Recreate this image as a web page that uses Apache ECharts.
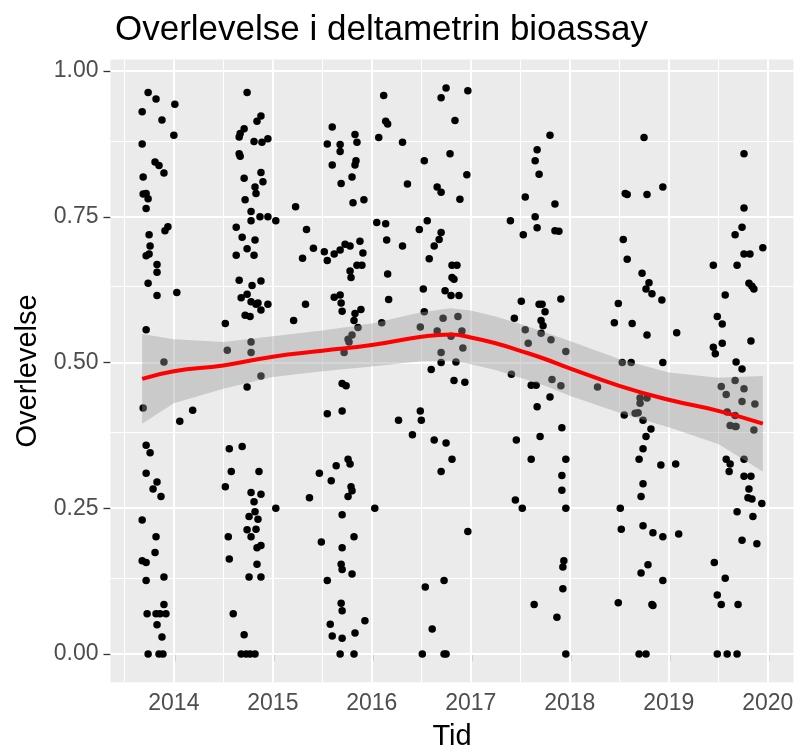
<!DOCTYPE html>
<html>
<head>
<meta charset="utf-8">
<title>Overlevelse i deltametrin bioassay</title>
<script src="https://cdn.jsdelivr.net/npm/echarts/dist/echarts.min.js"></script>
<style>
    html, body { margin: 0; padding: 0; background: #fff; }
    #chart { width: 796px; height: 750px; }
</style>
</head>
<body>
<div id="chart"></div>
<script>
// punkter [tid, overlevelse], gruppert etter sesong
var pts2013 = [[2013.74,0.963],[2013.82,0.952],[2014.01,0.943],[2013.68,0.930],[2013.88,0.916],[2014.00,0.890],[2013.68,0.875],[2013.81,0.844],[2013.85,0.838],[2013.90,0.825],[2013.69,0.818],[2013.69,0.789],[2013.72,0.790],[2013.74,0.781],[2013.72,0.764],[2013.94,0.733],[2013.91,0.726],[2013.75,0.719],[2013.76,0.700],[2013.72,0.683],[2013.75,0.686],[2013.83,0.668],[2013.83,0.655],[2013.74,0.636],[2013.83,0.615],[2014.03,0.620],[2013.72,0.556],[2013.90,0.501],[2013.69,0.422],[2014.19,0.418],[2014.06,0.399],[2013.72,0.358],[2013.76,0.345],[2013.72,0.310],[2013.83,0.295],[2013.79,0.283],[2013.87,0.270],[2013.68,0.230],[2013.82,0.201],[2013.81,0.174],[2013.68,0.160],[2013.72,0.157],[2013.72,0.126],[2013.90,0.132],[2013.90,0.085],[2013.73,0.069],[2013.82,0.069],[2013.86,0.069],[2013.92,0.069],[2013.83,0.050],[2013.88,0.029],[2013.74,0],[2013.85,0],[2013.89,0]];
var pts2014 = [[2014.74,0.963],[2014.88,0.923],[2014.84,0.914],[2014.71,0.901],[2014.67,0.893],[2014.66,0.887],[2014.81,0.879],[2014.89,0.878],[2014.95,0.884],[2014.66,0.858],[2014.67,0.854],[2014.88,0.826],[2014.71,0.816],[2014.90,0.810],[2014.82,0.801],[2014.83,0.790],[2014.72,0.779],[2014.78,0.759],[2014.78,0.743],[2014.87,0.750],[2014.95,0.750],[2015.03,0.743],[2014.63,0.732],[2014.69,0.715],[2014.82,0.710],[2014.74,0.695],[2014.63,0.684],[2014.81,0.684],[2014.66,0.641],[2014.79,0.632],[2014.88,0.640],[2014.68,0.611],[2014.74,0.617],[2014.78,0.604],[2014.83,0.600],[2014.85,0.602],[2014.95,0.600],[2014.88,0.590],[2014.72,0.581],[2014.77,0.579],[2014.52,0.567],[2014.54,0.521],[2014.78,0.535],[2014.78,0.517],[2014.88,0.477],[2014.74,0.458],[2014.56,0.352],[2014.69,0.356],[2014.58,0.313],[2014.86,0.313],[2014.52,0.287],[2014.78,0.277],[2014.88,0.274],[2014.81,0.261],[2015.03,0.250],[2014.82,0.244],[2014.76,0.236],[2014.85,0.231],[2014.83,0.214],[2014.74,0.213],[2014.78,0.201],[2014.55,0.201],[2014.88,0.186],[2014.84,0.182],[2014.56,0.163],[2014.84,0.154],[2014.76,0.132],[2014.88,0.132],[2014.60,0.069],[2014.71,0.033],[2014.68,0],[2014.73,0],[2014.77,0],[2014.82,0],
    [2015.23,0.767],[2015.34,0.728],[2015.30,0.679],[2015.41,0.696],[2015.33,0.600],[2015.21,0.572],[2015.37,0.268],[2015.47,0.310]];
var pts2015 = [[2015.60,0.904],[2015.55,0.875],[2015.68,0.874],[2015.68,0.862],[2015.60,0.839],[2015.83,0.891],[2015.85,0.878],[2015.84,0.846],[2015.83,0.839],[2015.80,0.818],[2015.69,0.807],[2015.81,0.774],[2015.92,0.779],[2015.52,0.690],[2015.55,0.675],[2015.62,0.686],[2015.68,0.693],[2015.73,0.703],[2015.78,0.700],[2015.88,0.708],[2015.91,0.688],[2015.85,0.667],[2015.90,0.667],[2015.78,0.657],[2015.79,0.646],[2015.62,0.612],[2015.68,0.616],[2015.69,0.602],[2015.70,0.588],[2015.83,0.584],[2015.89,0.591],[2015.82,0.572],[2015.86,0.560],[2015.80,0.547],[2015.76,0.540],[2015.77,0.535],[2015.72,0.517],[2015.70,0.464],[2015.74,0.460],[2015.70,0.417],[2015.55,0.412],[2015.76,0.334],[2015.78,0.326],[2015.64,0.323],[2015.59,0.297],[2015.79,0.287],[2015.80,0.280],[2015.76,0.270],[2015.70,0.239],[2016.03,0.250],[2015.82,0.201],[2015.49,0.192],[2015.70,0.182],[2015.69,0.154],[2015.70,0.145],[2015.80,0.137],[2015.55,0.126],[2015.69,0.087],[2015.70,0.074],[2015.93,0.057],[2015.58,0.051],[2015.60,0.031],[2015.70,0.027],[2015.83,0.036],[2015.68,0],[2015.82,0]];
var pts2016 = [[2016.12,0.958],[2016.14,0.914],[2016.16,0.909],[2016.07,0.886],[2016.31,0.878],[2016.36,0.806],[2016.05,0.740],[2016.14,0.738],[2016.15,0.710],[2016.31,0.700],[2016.16,0.652],[2016.17,0.608],[2016.10,0.568],[2016.70,0.954],[2016.75,0.971],[2016.84,0.915],[2016.53,0.846],[2016.79,0.858],[2016.66,0.801],[2016.70,0.792],[2016.89,0.780],[2016.48,0.728],[2016.56,0.743],[2016.70,0.723],[2016.68,0.711],[2016.63,0.700],[2016.58,0.678],[2016.81,0.667],[2016.86,0.667],[2016.81,0.646],[2016.83,0.643],[2016.52,0.626],[2016.74,0.623],[2016.80,0.615],[2016.88,0.615],[2016.53,0.587],[2016.72,0.576],[2016.49,0.561],[2016.66,0.554],[2016.80,0.545],[2016.70,0.517],[2016.85,0.501],[2016.70,0.500],[2016.60,0.488],[2016.83,0.469],[2016.49,0.417],[2016.27,0.401],[2016.50,0.401],[2016.41,0.376],[2016.63,0.367],[2016.75,0.362],[2016.81,0.334],[2016.70,0.313],[2016.73,0.126],[2016.54,0.115],[2016.61,0.043],[2016.51,0],[2016.73,0],[2016.75,0]];
var pts2017 = [[2016.97,0.966],[2016.96,0.822],[2016.87,0.579],[2016.91,0.554],[2016.92,0.525],[2017.80,0.890],[2017.67,0.865],[2017.65,0.846],[2017.69,0.823],[2017.55,0.784],[2017.85,0.772],[2017.40,0.743],[2017.65,0.750],[2017.67,0.731],[2017.53,0.719],[2017.85,0.726],[2017.89,0.725],[2017.51,0.605],[2017.69,0.600],[2017.72,0.600],[2017.75,0.587],[2017.91,0.609],[2017.44,0.576],[2017.71,0.572],[2017.73,0.563],[2017.55,0.556],[2017.71,0.550],[2017.81,0.539],[2017.58,0.533],[2017.96,0.519],[2016.94,0.466],[2017.41,0.480],[2017.61,0.461],[2017.66,0.461],[2017.82,0.471],[2017.91,0.460],[2017.80,0.441],[2017.67,0.424],[2017.92,0.388],[2017.46,0.367],[2017.70,0.373],[2017.61,0.334],[2017.96,0.334],[2017.92,0.306],[2017.92,0.281],[2017.45,0.264],[2017.52,0.250],[2017.96,0.250],[2016.97,0.210],[2017.94,0.160],[2017.93,0.149],[2017.93,0.112],[2017.64,0.085],[2017.87,0.063],[2017.96,0]];
var pts2018 = [[2018.75,0.886],[2018.56,0.790],[2018.58,0.788],[2018.78,0.788],[2018.94,0.801],[2018.54,0.711],[2018.58,0.677],[2018.73,0.653],[2018.80,0.637],[2018.77,0.626],[2018.83,0.618],[2018.93,0.607],[2018.49,0.601],[2018.45,0.568],[2018.63,0.567],[2018.78,0.547],[2019.08,0.551],[2018.53,0.500],[2018.62,0.500],[2018.94,0.500],[2018.28,0.458],[2018.71,0.439],[2018.71,0.430],[2018.78,0.439],[2018.66,0.413],[2018.69,0.414],[2018.55,0.410],[2018.74,0.401],[2018.82,0.386],[2018.77,0.373],[2018.74,0.352],[2018.70,0.334],[2018.92,0.324],[2019.07,0.326],[2018.74,0.292],[2018.72,0.270],[2018.51,0.250],[2018.52,0.214],[2018.74,0.220],[2018.84,0.208],[2018.94,0.201],[2019.10,0.206],[2018.79,0.153],[2018.72,0.139],[2018.94,0.126],[2018.49,0.088],[2018.83,0.085],[2018.84,0.083],[2018.70,0],[2018.77,0]];
var pts2019 = [[2019.76,0.858],[2019.76,0.765],[2019.74,0.732],[2019.67,0.719],[2019.95,0.697],[2019.76,0.686],[2019.82,0.686],[2019.45,0.667],[2019.69,0.667],[2019.81,0.636],[2019.84,0.631],[2019.86,0.626],[2019.57,0.616],[2019.49,0.579],[2019.54,0.566],[2019.45,0.526],[2019.47,0.515],[2019.54,0.533],[2019.83,0.537],[2019.68,0.501],[2019.74,0.489],[2019.67,0.469],[2019.53,0.459],[2019.76,0.455],[2019.58,0.445],[2019.74,0.433],[2019.87,0.429],[2019.59,0.415],[2019.67,0.409],[2019.62,0.392],[2019.67,0.390],[2019.68,0.390],[2019.86,0.384],[2019.58,0.334],[2019.62,0.326],[2019.61,0.313],[2019.76,0.334],[2019.76,0.305],[2019.83,0.305],[2019.81,0.283],[2019.80,0.268],[2019.84,0.266],[2019.94,0.258],[2019.69,0.244],[2019.85,0.236],[2019.74,0.195],[2019.89,0.189],[2019.46,0.157],[2019.57,0.130],[2019.49,0.101],[2019.53,0.085],[2019.70,0.085],[2019.49,0],[2019.59,0],[2019.69,0]];

// glattet kurve (loess) og konfidensbånd
var smoothX = [2013.68, 2014.0, 2014.5, 2015.0, 2015.5, 2016.0, 2016.5, 2016.8, 2017.0, 2017.25, 2017.5, 2017.75, 2018.0, 2018.5, 2019.0, 2019.5, 2019.95];
var smoothY = [0.472, 0.485, 0.495, 0.510, 0.520, 0.530, 0.544, 0.548, 0.543, 0.533, 0.520, 0.506, 0.490, 0.460, 0.436, 0.417, 0.395];
var bandUpper = [0.549, 0.540, 0.535, 0.545, 0.555, 0.567, 0.586, 0.593, 0.589, 0.579, 0.566, 0.552, 0.537, 0.506, 0.483, 0.474, 0.477];
var bandLower = [0.395, 0.430, 0.455, 0.475, 0.485, 0.493, 0.502, 0.503, 0.497, 0.487, 0.474, 0.460, 0.443, 0.414, 0.389, 0.360, 0.313];

// akser
var xTicks = [2014, 2015, 2016, 2017, 2018, 2019, 2020];
var xMinor = [2013.5, 2014.5, 2015.5, 2016.5, 2017.5, 2018.5, 2019.5];
var yTicks = [0, 0.25, 0.5, 0.75, 1];
var yMinor = [0.125, 0.375, 0.625, 0.875];

var fontName = 'Liberation Sans, Arial, sans-serif';

function gridLines() {
    var lines = [];
    xTicks.forEach(function(v) { lines.push({ xAxis: v, lineStyle: { width: 2 } }); });
    xMinor.forEach(function(v) { lines.push({ xAxis: v, lineStyle: { width: 1 } }); });
    yTicks.forEach(function(v) { lines.push({ yAxis: v, lineStyle: { width: 2 } }); });
    yMinor.forEach(function(v) { lines.push({ yAxis: v, lineStyle: { width: 1 } }); });
    return lines;
}

var myChart = echarts.init(document.getElementById('chart'));
var option = {
    animation: false,
    title: {
        text: 'Overlevelse i deltametrin bioassay',
        left: 110,
        top: 8,
        textStyle: { fontFamily: fontName, fontSize: 35, fontWeight: 'normal', color: '#000' }
    },
    grid: {
        left: 110.5, right: 2.5, top: 59.6, bottom: 67.7,
        containLabel: false,
        outerBoundsMode: 'none',
        show: true, backgroundColor: '#EBEBEB', borderWidth: 0
    },
    xAxis: {
        type: 'value',
        min: 2013.36,
        max: 2020.26,
        name: 'Tid',
        nameLocation: 'middle',
        nameGap: 40,
        nameTextStyle: { fontFamily: fontName, fontSize: 29, color: '#000' },
        axisLine: { show: false },
        splitLine: { show: false },
        axisTick: { show: true, customValues: xTicks, length: 7, lineStyle: { color: '#333', width: 1.3 } },
        axisLabel: { customValues: xTicks, margin: 10, color: '#4D4D4D', fontSize: 23, fontFamily: fontName,
            formatter: function(v) { return String(Math.round(v)); } }
    },
    yAxis: {
        type: 'value',
        min: -0.0486,
        max: 1.0196,
        name: 'Overlevelse',
        nameLocation: 'middle',
        nameGap: 62,
        nameTextStyle: { fontFamily: fontName, fontSize: 29, color: '#000' },
        axisLine: { show: false },
        splitLine: { show: false },
        axisTick: { show: true, customValues: yTicks, length: 7, lineStyle: { color: '#333', width: 1.3 } },
        axisLabel: { customValues: yTicks, margin: 12, color: '#4D4D4D', fontSize: 23, fontFamily: fontName,
            formatter: function(v) { return v.toFixed(2); } }
    },
    series: [{
        // rutenett
        type: 'scatter',
        z: 1,
        silent: true,
        data: [],
        markLine: {
            z: 1,
            silent: true,
            symbol: ['none', 'none'],
            label: { show: false },
            lineStyle: { color: '#fff', type: 'solid' },
            data: gridLines()
        }
    }, {
        name: 'Overlevelse',
        type: 'scatter',
        z: 2,
        symbolSize: 7.5,
        itemStyle: { color: '#000', opacity: 1 },
        data: [].concat(pts2013, pts2014, pts2015, pts2016, pts2017, pts2018, pts2019)
    }, {
        // konfidensbånd
        type: 'custom',
        z: 3,
        silent: true,
        data: [[2017, 0.5]],
        renderItem: function(params, api) {
            var poly = [];
            for (var i = 0; i < smoothX.length; i++) poly.push(api.coord([smoothX[i], bandUpper[i]]));
            for (var j = smoothX.length - 1; j >= 0; j--) poly.push(api.coord([smoothX[j], bandLower[j]]));
            return { type: 'polygon', shape: { points: poly }, style: { fill: 'rgba(153,153,153,0.4)' } };
        }
    }, {
        type: 'line',
        z: 4,
        smooth: true,
        symbol: 'none',
        lineStyle: { color: '#FF0000', width: 4 },
        data: smoothX.map(function(x, i) { return [x, smoothY[i]]; })
    }]
};
myChart.setOption(option);
</script>
</body>
</html>
